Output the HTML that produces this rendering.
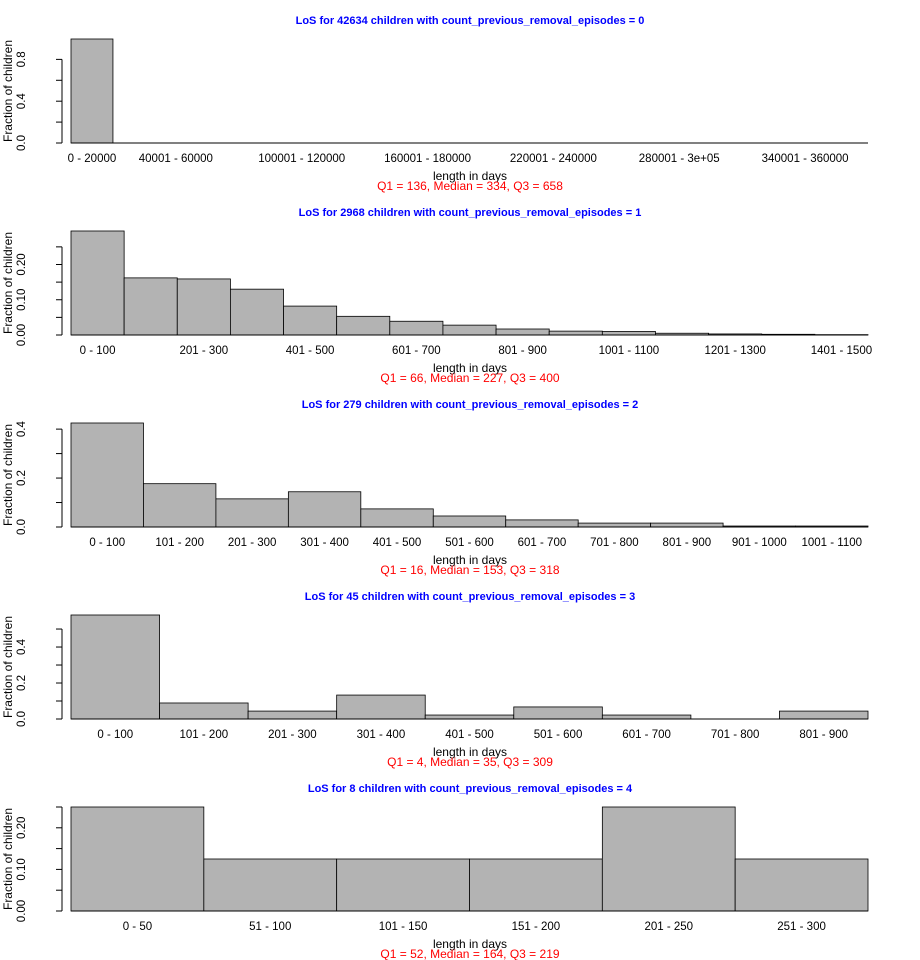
<!DOCTYPE html>
<html><head><meta charset="utf-8"><style>
body{margin:0;background:#fff;}
svg{display:block;font-family:"Liberation Sans",Arial,sans-serif;}
</style></head><body>
<svg id="chart" width="920" height="960"></svg>
<script>
const titles=["LoS for 42634 children with count_previous_removal_episodes = 0","LoS for 2968 children with count_previous_removal_episodes = 1","LoS for 279 children with count_previous_removal_episodes = 2","LoS for 45 children with count_previous_removal_episodes = 3","LoS for 8 children with count_previous_removal_episodes = 4"];
const quartiles=["Q1 = 136, Median = 334, Q3 = 658","Q1 = 66, Median = 227, Q3 = 400","Q1 = 16, Median = 153, Q3 = 318","Q1 = 4, Median = 35, Q3 = 309","Q1 = 52, Median = 164, Q3 = 219"];
const values0=[0.995,0,0,0,0,0,0,0,0,0,0,0,0,0,0,0,0,0,0];
const values1=[0.295,0.162,0.159,0.13,0.082,0.053,0.039,0.028,0.017,0.011,0.010,0.005,0.003,0.002,0.001];
const values2=[0.425,0.177,0.115,0.144,0.074,0.045,0.029,0.016,0.016,0.004,0.004];
const values3=[0.578,0.089,0.044,0.133,0.022,0.067,0.022,0,0.044];
const values4=[0.25,0.125,0.125,0.125,0.25,0.125];
const labels0=["0 - 20000","","40001 - 60000","","","100001 - 120000","","","160001 - 180000","","","220001 - 240000","","","280001 - 3e+05","","","340001 - 360000",""];
const labels1=["0 - 100","","201 - 300","","401 - 500","","601 - 700","","801 - 900","","1001 - 1100","","1201 - 1300","","1401 - 1500"];
const labels2=["0 - 100","101 - 200","201 - 300","301 - 400","401 - 500","501 - 600","601 - 700","701 - 800","801 - 900","901 - 1000","1001 - 1100"];
const labels3=["0 - 100","101 - 200","201 - 300","301 - 400","401 - 500","501 - 600","601 - 700","701 - 800","801 - 900"];
const labels4=["0 - 50","51 - 100","101 - 150","151 - 200","201 - 250","251 - 300"];
const ticks0=[0,0.2,0.4,0.6,0.8];
const ticks1=[0,0.05,0.1,0.15,0.2,0.25];
const ticks2=[0,0.1,0.2,0.3,0.4];
const ticks3=[0,0.1,0.2,0.3,0.4,0.5];
const ticks4=[0,0.05,0.1,0.15,0.2,0.25];
const tickLabels0=["0.0","","0.4","","0.8"];
const tickLabels1=["0.00","","0.10","","0.20",""];
const tickLabels2=["0.0","","0.2","","0.4"];
const tickLabels3=["0.0","","0.2","","0.4",""];
const tickLabels4=["0.00","","0.10","","0.20",""];

const panels=[[values0,labels0,ticks0,tickLabels0],[values1,labels1,ticks1,tickLabels1],[values2,labels2,ticks2,tickLabels2],[values3,labels3,ticks3,tickLabels3],[values4,labels4,ticks4,tickLabels4]];
const svg=document.getElementById('chart');
const NS="http://www.w3.org/2000/svg";
function mk(tag,attrs,parent,text){const e=document.createElementNS(NS,tag);for(const k in attrs)e.setAttribute(k,attrs[k]);if(text!==undefined)e.textContent=text;parent.appendChild(e);return e;}
panels.forEach((p,i)=>{
  const [vals,labs,ticks,tl]=p;
  const oy=i*192, base=oy+143, x0=71, x1=868;
  const maxV=Math.max(...vals);
  const y=v=>base-v*104/maxV;
  const bw=(x1-x0)/vals.length;
  const x=k=>x0+k*bw;
  const g=mk('g',{},svg);
  
  
  const t=mk('text',{x:470,y:oy+24,'text-anchor':'middle','font-size':11,'font-weight':'bold',fill:'#0000ff'},g,titles[i]);
  
  
  vals.forEach((v,k)=>{
    const r=mk('rect',{x:x(k),y:y(v),width:bw,height:base-y(v),fill:'#b3b3b3',stroke:'#000','stroke-width':0.8},g);
    
    
    if(labs[k]){const l=mk('text',{x:x(k)+bw/2,y:oy+162,'text-anchor':'middle','font-size':11.5,fill:'#000'},g,labs[k]);
      
      }
  });
  mk('line',{x1:x0,x2:x1,y1:base,y2:base,stroke:'#000','stroke-width':1},g);
  mk('line',{x1:62,x2:62,y1:y(ticks[0]),y2:y(ticks[ticks.length-1]),stroke:'#000','stroke-width':1},g);
  ticks.forEach((tv,k)=>{
    mk('line',{x1:56,x2:62,y1:y(tv),y2:y(tv),stroke:'#000','stroke-width':1},g);
    if(tl[k]){const l=mk('text',{x:0,y:0,transform:`translate(${25},${y(tv)}) rotate(-90)`,'text-anchor':'middle','font-size':11.5,fill:'#000'},g,tl[k]);
      
      }
  });
  const ya=mk('text',{x:0,y:0,transform:`translate(12,${oy+91}) rotate(-90)`,'text-anchor':'middle','font-size':12,fill:'#000'},g,'Fraction of children');
  
  
  const xa=mk('text',{x:470,y:oy+180,'text-anchor':'middle','font-size':12,fill:'#000'},g,'length in days');
  
  
  const q=mk('text',{x:470,y:oy+190,'text-anchor':'middle','font-size':12,fill:'#ff0000'},g,quartiles[i]);
  
  
});
</script>
</body></html>
